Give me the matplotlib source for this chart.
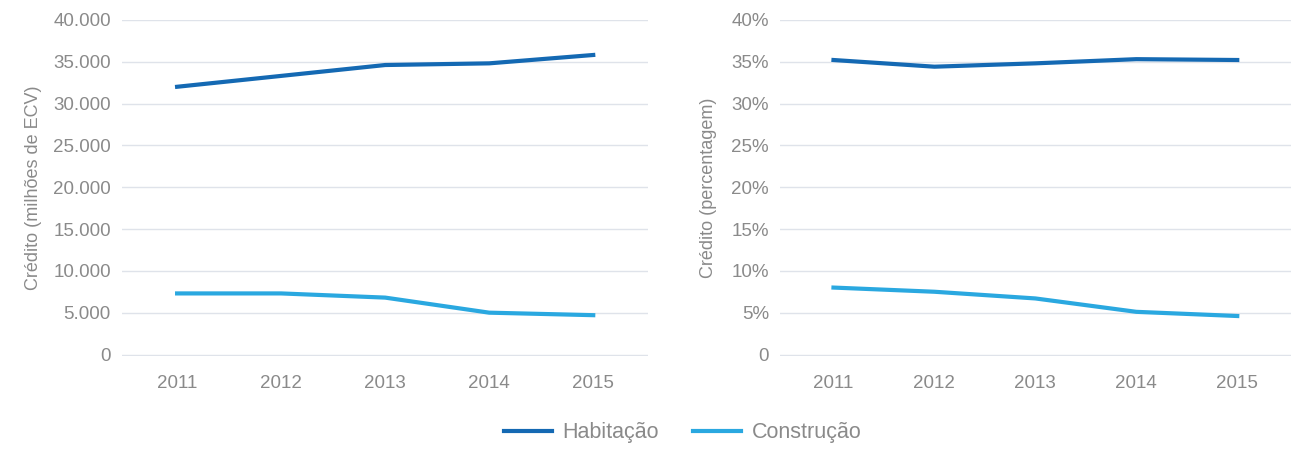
import matplotlib
matplotlib.use("Agg")
import matplotlib.pyplot as plt
from matplotlib.ticker import FuncFormatter

# ---------- data ----------
years = [2011, 2012, 2013, 2014, 2015]
habitacao_abs = [32000, 33300, 34600, 34800, 35800]
construcao_abs = [7300, 7300, 6800, 5000, 4700]
habitacao_pct = [35.2, 34.4, 34.8, 35.3, 35.2]
construcao_pct = [8.0, 7.5, 6.7, 5.1, 4.6]

# ---------- palette ----------
DARK_BLUE = "#1469b3"
LIGHT_BLUE = "#2aa8e0"
GRID = "#dfe3ea"
TEXT = "#8a8a8a"

plt.rcParams["font.family"] = ["Liberation Sans", "DejaVu Sans"]

fig = plt.figure(figsize=(13.03, 4.51), dpi=100)
fig.patch.set_facecolor("white")
ax1 = fig.add_axes([0.0936, 0.211, 0.404, 0.745])
ax2 = fig.add_axes([0.5986, 0.211, 0.392, 0.745])


def style(ax, ymax, step, fmt, ylabel, labelpad):
    ax.set_xlim(years[0] - 0.53, years[-1] + 0.53)
    ax.set_ylim(-ymax * 0.004, ymax)
    ax.set_yticks([i * step for i in range(int(ymax / step) + 1)])
    ax.set_xticks(years)
    ax.yaxis.set_major_formatter(FuncFormatter(fmt))
    ax.grid(axis="y", color=GRID, linewidth=1.0)
    ax.set_axisbelow(True)
    for s in ax.spines.values():
        s.set_visible(False)
    ax.tick_params(axis="both", length=0, colors=TEXT, labelsize=13.5)
    ax.tick_params(axis="x", pad=14)
    ax.tick_params(axis="y", pad=8)
    ax.set_ylabel(ylabel, color=TEXT, fontsize=13, labelpad=labelpad)


ax1.plot(years, habitacao_abs, color=DARK_BLUE, linewidth=3, label="Habitação")
ax1.plot(years, construcao_abs, color=LIGHT_BLUE, linewidth=3, label="Construção")
style(ax1, 40000, 5000, lambda v, p: f"{int(v):,}".replace(",", "."),
      "Crédito (milhões de ECV)", 8)

ax2.plot(years, habitacao_pct, color=DARK_BLUE, linewidth=3)
ax2.plot(years, construcao_pct, color=LIGHT_BLUE, linewidth=3)
style(ax2, 40, 5, lambda v, p: "0" if v == 0 else f"{int(v)}%",
      "Crédito (percentagem)", 10)

handles, labels = ax1.get_legend_handles_labels()
fig.legend(handles, labels, loc="center", bbox_to_anchor=(0.524, 0.04),
           ncol=2, frameon=False, fontsize=15.5, handlelength=2.2,
           handletextpad=0.5, columnspacing=1.6, labelcolor=TEXT)

fig.savefig("out.png", dpi=100, facecolor="white")
